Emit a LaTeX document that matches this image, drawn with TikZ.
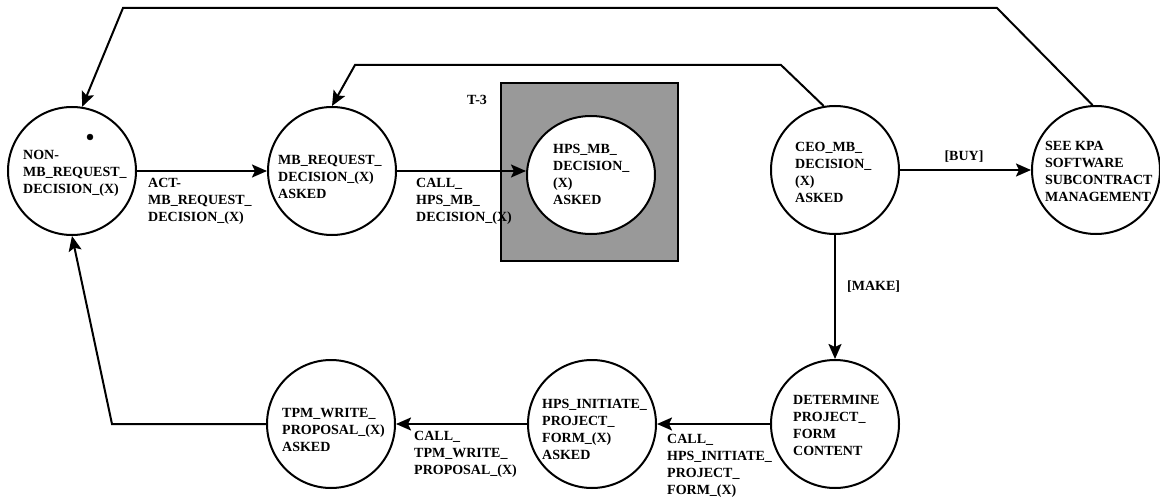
\documentclass[tikz,border=0pt]{standalone}
\usepackage{fontspec}
\setmainfont{Liberation Serif}
\usetikzlibrary{arrows.meta,shapes.geometric}
\definecolor{boxgray}{RGB}{153,153,153}
\begin{document}
\begin{tikzpicture}[x=1pt,y=-1pt,
  every node/.style={font=\bfseries\fontsize{14}{17}\selectfont},
  state/.style={draw, line width=2pt, circle, minimum size=128pt, inner sep=0pt, fill=white},
  ostate/.style={draw, line width=2pt, ellipse, minimum width=128pt, minimum height=118pt, inner sep=0pt, fill=white},
  txt/.style={align=left, inner sep=0pt, anchor=west},
  arr/.style={line width=2pt, -{Stealth[length=15pt,width=13pt,inset=3pt]}}
]
\useasboundingbox (0,0) rectangle (1160,503);

% T-3 box
\node[draw, line width=2pt, fill=boxgray, minimum width=177pt, minimum height=178pt, inner sep=0pt] (box) at (589.5,172) {};
\node[txt] (t3) at (467,100) {T-3};

% states
\node[state] (n1) at (72,171) {};
\node[state] (n2) at (332,171) {};
\node[ostate] (hps) at (591,175) {};
\node[state] (ceo) at (835,170) {};
\node[state] (see) at (1096,170) {};
\node[state] (det) at (835,424) {};
\node[state] (init) at (592,424) {};
\node[state] (tpm) at (331,424) {};

% state texts
\node[txt] (n1t) at (23,173) {NON-\\MB\_REQUEST\_\\DECISION\_(X)};
\node[txt] (n2t) at (278,177) {MB\_REQUEST\_\\DECISION\_(X)\\ASKED};
\node[txt] (hpst) at (553,174) {HPS\_MB\_\\DECISION\_\\(X)\\ASKED};
\node[txt] (ceot) at (795,172) {CEO\_MB\_\\DECISION\_\\(X)\\ASKED};
\node[txt] (seet) at (1045,171) {SEE KPA\\SOFTWARE\\SUBCONTRACT\\MANAGEMENT};
\node[txt] (dett) at (793,425) {DETERMINE\\PROJECT\_\\FORM\\CONTENT};
\node[txt] (initt) at (542,429) {HPS\_INITIATE\_\\PROJECT\_\\FORM\_(X)\\ASKED};
\node[txt] (tpmt) at (282,430) {TPM\_WRITE\_\\PROPOSAL\_(X)\\ASKED};

% initial marker
\filldraw[fill=black] (90,137) circle (3pt);

% edge labels
\node[txt] (l1) at (148,201) {ACT-\\MB\_REQUEST\_\\DECISION\_(X)};
\node[txt] (l2) at (416,201) {CALL\_\\HPS\_MB\_\\DECISION\_(X)};
\node (l3) at (964,157) {[BUY]};
\node[txt] (l4) at (847,287) {[MAKE]};
\node[txt] (l5) at (667,466) {CALL\_\\HPS\_INITIATE\_\\PROJECT\_\\FORM\_(X)};
\node[txt] (l6) at (414,454) {CALL\_\\TPM\_WRITE\_\\PROPOSAL\_(X)};

% connectors
\coordinate (c1) at (112,424);
\coordinate (c2) at (997,8);
\coordinate (c3) at (123,8);
\coordinate (c4) at (781,65);
\coordinate (c5) at (355,65);

\draw[arr] (n1) -- (n2);
\draw[arr] (n2.east) -- (n2.east -| hps.west);
\draw[arr] (ceo) -- (see);
\draw[arr] (ceo) -- (det);
\draw[arr] (det) -- (init);
\draw[arr] (init) -- (tpm);
\draw[arr] (tpm) -- (c1) -- (n1.south);
\draw[arr] (see.93) -- (c2) -- (c3) -- (n1.81);
\draw[arr] (ceo.100) -- (c4) -- (c5) -- (n2.north);
\end{tikzpicture}
\end{document}
